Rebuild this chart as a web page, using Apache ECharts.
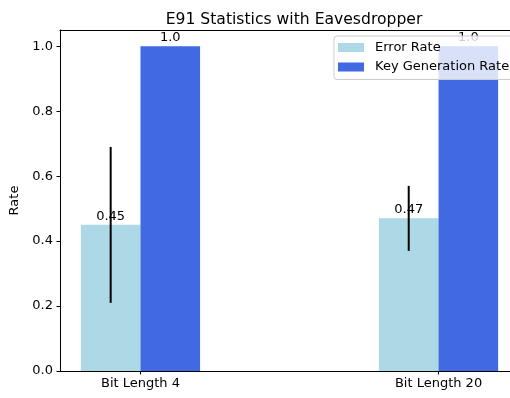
<!DOCTYPE html>
<html>
<head>
<meta charset="utf-8">
<script src="https://cdn.jsdelivr.net/npm/echarts@6/dist/echarts.min.js"></script>
<style>html,body{margin:0;padding:0;background:#fff;}#c{width:510px;height:398px;}</style>
</head>
<body>
<div id="c"></div>
<script>
const categories = ['Bit Length 4', 'Bit Length 20'];
const errorRate = [0.45, 0.47];
const errorStd = [0.24, 0.10];
const keyRate = [1.0, 1.0];
const yTicks = [0, 0.2, 0.4, 0.6, 0.8, 1.0];
const seriesNames = ['Error Rate', 'Key Generation Rate'];
const colors = ['#ADD8E6', '#4169E1'];

const BAR_W = 0.2;
const FONT = 'DejaVu Sans';
const FS = 13;
const X_MIN = -0.27, X_MAX = 1.27;

function barRender(offset, color, labelFmt) {
  return function (params, api) {
    const x = api.value(0) + offset;
    const y = api.value(1);
    const p0 = api.coord([x - BAR_W / 2, 0]);
    const p1 = api.coord([x + BAR_W / 2, y]);
    const cx = (p0[0] + p1[0]) / 2;
    return {
      type: 'group',
      children: [
        { type: 'rect', shape: { x: p0[0], y: p1[1], width: p1[0] - p0[0], height: p0[1] - p1[1] }, style: { fill: color } },
        { type: 'text', z2: 10, style: { text: labelFmt(y), x: cx, y: p1[1] - 2, align: 'center', verticalAlign: 'bottom', fill: '#000', font: FS + 'px "' + FONT + '"' } }
      ]
    };
  };
}

const chart = echarts.init(document.getElementById('c'), null, { renderer: 'canvas' });
chart.setOption({
  animation: false,
  backgroundColor: '#fff',
  title: {
    text: 'E91 Statistics with Eavesdropper',
    left: 289, top: 7, textAlign: 'center',
    textStyle: { fontFamily: FONT, fontSize: 15.6, fontWeight: 'normal', color: '#000' }
  },
  grid: { left: 60, top: 30, width: 459, height: 341, outerBoundsMode: 'none', containLabel: false, show: false },
  legend: {
    data: seriesNames,
    orient: 'vertical', left: 334, top: 36,
    icon: 'rect', itemWidth: 26, itemHeight: 9, itemGap: 4.5,
    padding: [4, 8, 5, 4],
    backgroundColor: 'rgba(255,255,255,0.8)', borderColor: '#cccccc', borderWidth: 1, borderRadius: 3,
    textStyle: { fontFamily: FONT, fontSize: FS, color: '#000', lineHeight: 15, padding: [0, 0, 0, 6] }
  },
  xAxis: [{
    type: 'value', min: X_MIN, max: X_MAX, position: 'bottom',
    axisLine: { show: true, onZero: false, lineStyle: { color: '#000', width: 1 } },
    axisTick: { show: true, customValues: [0, 1], length: 3.5, inside: false, lineStyle: { color: '#000' } },
    axisLabel: { customValues: [0, 1], formatter: v => categories[Math.round(v)], margin: 6, fontFamily: FONT, fontSize: FS, color: '#000' },
    splitLine: { show: false }
  }, {
    type: 'value', min: X_MIN, max: X_MAX, position: 'top',
    axisLine: { show: true, onZero: false, lineStyle: { color: '#000', width: 1 } },
    axisTick: { show: false }, axisLabel: { show: false }, splitLine: { show: false }
  }],
  yAxis: {
    type: 'value', min: 0, max: 1.05,
    name: 'Rate', nameLocation: 'middle', nameGap: 32, nameRotate: 90,
    nameTextStyle: { fontFamily: FONT, fontSize: FS, color: '#000' },
    axisLine: { show: true, onZero: false, lineStyle: { color: '#000', width: 1 } },
    axisTick: { show: true, customValues: yTicks, length: 3.5, lineStyle: { color: '#000' } },
    axisLabel: { customValues: yTicks, formatter: v => v.toFixed(1), margin: 7, fontFamily: FONT, fontSize: FS, color: '#000' },
    splitLine: { show: false }
  },
  series: [
    {
      name: seriesNames[0], type: 'custom', z: 2,
      itemStyle: { color: colors[0] },
      data: errorRate.map((v, i) => [i, v]),
      renderItem: barRender(-BAR_W / 2, colors[0], v => String(v))
    },
    {
      name: seriesNames[1], type: 'custom', z: 2,
      itemStyle: { color: colors[1] },
      data: keyRate.map((v, i) => [i, v]),
      renderItem: barRender(BAR_W / 2, colors[1], v => v.toFixed(1))
    },
    {
      name: 'err', type: 'custom', z: 3,
      data: errorRate.map((v, i) => [i, v, errorStd[i]]),
      renderItem: function (params, api) {
        const x = api.value(0) - BAR_W / 2;
        const y = api.value(1), e = api.value(2);
        const a = api.coord([x, y - e]);
        const b = api.coord([x, y + e]);
        return { type: 'line', shape: { x1: a[0], y1: a[1], x2: b[0], y2: b[1] }, style: { stroke: '#000', lineWidth: 2 } };
      }
    }
  ]
});
</script>
</body>
</html>
